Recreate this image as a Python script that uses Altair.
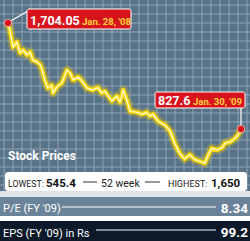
import altair as alt
import pandas as pd

# ---- data ----
dates = [
    "2008-01-28", "2008-01-31", "2008-02-03", "2008-02-05", "2008-02-11", "2008-02-16",
    "2008-02-21", "2008-02-27", "2008-03-03", "2008-03-07", "2008-03-14", "2008-03-19",
    "2008-03-22", "2008-03-26", "2008-03-31", "2008-04-06", "2008-04-08", "2008-04-14",
    "2008-04-22", "2008-04-30", "2008-05-05", "2008-05-10", "2008-05-18", "2008-05-25",
    "2008-06-01", "2008-06-10", "2008-06-18", "2008-06-24", "2008-06-29", "2008-07-10",
    "2008-07-18", "2008-07-23", "2008-07-28", "2008-08-03", "2008-08-08", "2008-08-19",
    "2008-08-27", "2008-09-03", "2008-09-08", "2008-09-13", "2008-09-21", "2008-09-29",
    "2008-10-02", "2008-10-10", "2008-10-18", "2008-10-26", "2008-11-02", "2008-11-10",
    "2008-11-18", "2008-11-26", "2008-12-04", "2008-12-09", "2008-12-15", "2008-12-23",
    "2008-12-31", "2009-01-05", "2009-01-13", "2009-01-21", "2009-01-25", "2009-01-30",
]
prices = [
    1704.05, 1646, 1563, 1506, 1547, 1456,
    1481, 1439, 1464, 1398, 1382, 1357,
    1315, 1233, 1166, 1191, 1125, 1175,
    1208, 1315, 1290, 1233, 1257, 1216,
    1165, 1150, 1170, 1125, 1140, 1060,
    1100, 1050, 1150, 1060, 975, 965,
    950, 965, 935, 950, 893, 868,
    860, 810, 700, 620, 580, 615,
    575, 560, 545.4, 612, 668, 655,
    672, 711, 720, 753, 778, 827.6,
]
label_dates = ["Jan. 28, '08", "Jan. 30, '09"]
low_52, high_52 = 545.4, 1650
pe_label, pe_value = "P/E (FY '09)", "8.34"
eps_label, eps_value = "EPS (FY '09) in Rs", "99.2"

df = pd.DataFrame({"date": dates, "price": prices})
ends = df.iloc[[0, -1]]

FONT = "Roboto"
BG = "#587288"
GRID = "#8ea4b5"
one = pd.DataFrame({"k": [0]})


def rect(x, x2, y, y2, color, **kw):
    return alt.Chart(one).mark_rect(color=color, **kw).encode(
        x=alt.value(x), x2=alt.value(x2), y=alt.value(y), y2=alt.value(y2))


def rule(x, x2, y, y2, color, w=1):
    return alt.Chart(one).mark_rule(color=color, strokeWidth=w).encode(
        x=alt.value(x), x2=alt.value(x2), y=alt.value(y), y2=alt.value(y2))


def text(s, x, y, size, color, weight="normal", align="left"):
    return alt.Chart(one).mark_text(
        text=s, font=FONT, fontSize=size, fontWeight=weight, color=color,
        align=align, baseline="alphabetic").encode(x=alt.value(x), y=alt.value(y))


xs = alt.X("date:T", axis=None,
           scale=alt.Scale(domain=[alt.DateTime(year=2008, month=1, date=28),
                                   alt.DateTime(year=2009, month=1, date=30)],
                           range=[8, 241]))
ys = alt.Y("price:Q", axis=None,
           scale=alt.Scale(domain=[827.6, 1704.05], range=[129, 23], zero=False))

base = alt.Chart(df).encode(x=xs, y=ys)
glow = base.mark_line(color="#f0cc00", strokeWidth=9, opacity=0.3, strokeJoin="round")
yel = base.mark_line(color="#f9d300", strokeWidth=4.5, strokeJoin="round")
core = base.mark_line(color="#fff8c0", strokeWidth=1.5, strokeJoin="round")
dots = alt.Chart(ends).mark_point(filled=True, color="#d7141c", size=55, opacity=1,
                                  stroke="#f3c3c3", strokeWidth=0.8).encode(x=xs, y=ys)

vgrid = alt.Chart(pd.DataFrame({"g": list(range(4, 250, 9))})).mark_rule(
    color=GRID, strokeWidth=1).encode(
    x=alt.X("g:Q", axis=None, scale=alt.Scale(domain=[0, 250])),
    y=alt.value(0), y2=alt.value(197))
hgrid = alt.Chart(pd.DataFrame({"h": list(range(5, 197, 9))})).mark_rule(
    color=GRID, strokeWidth=1).encode(
    y=alt.Y("h:Q", axis=None, scale=alt.Scale(domain=[0, 241], reverse=True)),
    x=alt.value(0), x2=alt.value(250))

layers = [
    rect(0, 250, 0, 197, BG),
    vgrid, hgrid,
    rect(0, 250, 191, 197, "#dde3e8"),
    text("Stock Prices", 8, 160, 12, "white", "bold"),
    rect(5, 247, 172, 191, "white", cornerRadius=3),
    text("LOWEST:", 8, 187, 8.8, "#222"),
    text(f"{low_52:,}", 46, 187, 11.5, "#111", "bold"),
    rule(83, 97, 182, 182, "#333", 1),
    text("52 week", 101, 187, 10.5, "#222"),
    rule(145, 160, 182, 182, "#333", 1),
    text("HIGHEST:", 168, 187, 9, "#222"),
    text(f"{high_52:,}", 211, 187, 11.5, "#111", "bold"),
    glow, yel, core,
    rule(9, 28, 22, 11, "white", 1.2),
    rule(241, 241, 107, 126, "white", 1.2),
    dots,
    rect(27, 131, 9, 29, "#d7141c", cornerRadius=2, stroke="white", strokeWidth=1),
    text(f"{prices[0]:,.2f}", 30, 25, 12.5, "white", "bold"),
    text(label_dates[0], 82, 25, 9.5, "#ffd23f", "bold"),
    rect(155, 245, 92, 108, "#d7141c", cornerRadius=2, stroke="white", strokeWidth=1),
    text(f"{prices[-1]:,}", 158, 105, 12.5, "white", "bold"),
    text(label_dates[1], 193, 105, 9.5, "#ffd23f", "bold"),
    rect(0, 250, 197, 216, "#6a8398"),
    text(pe_label, 3, 212, 11, "white"),
    rule(62, 216, 207, 207, "white", 1),
    text(pe_value, 248, 213, 13.5, "white", "bold", "right"),
    rect(0, 250, 216, 221, "white"),
    rect(0, 250, 221, 241, "#0c1929"),
    text(eps_label, 3, 237, 11, "white"),
    rule(96, 216, 230, 230, "white", 1),
    text(eps_value, 248, 237, 13.5, "white", "bold", "right"),
]

chart = alt.layer(*layers).resolve_scale(x="independent", y="independent").properties(
    width=250, height=241, padding=0, autosize=alt.AutoSizeParams(type="none"),
    background="white",
).configure_view(stroke=None)

chart.save("out.html", embed_options={"renderer": "svg", "actions": False})
